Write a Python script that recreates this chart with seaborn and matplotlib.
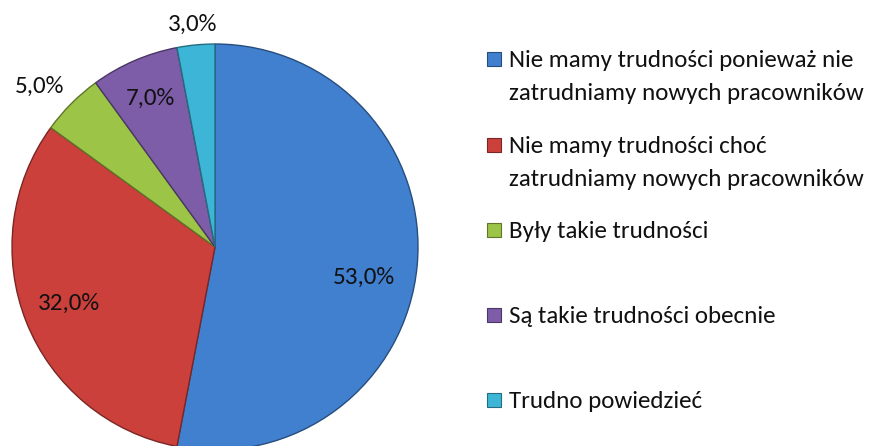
import seaborn as sns
import matplotlib.pyplot as plt
import matplotlib.colors as mcolors
from matplotlib.patches import Rectangle
import numpy as np

# data
categories = ['Nie mamy trudności ponieważ nie\nzatrudniamy nowych pracowników',
              'Nie mamy trudności choć\nzatrudniamy nowych pracowników',
              'Były takie trudności',
              'Są takie trudności obecnie',
              'Trudno powiedzieć']
values = [53.0, 32.0, 5.0, 7.0, 3.0]
colors = ['#4180CF', '#CC403C', '#9CC446', '#7D5CA8', '#3CB5D6']

# label placement (radius, angle shift in deg) per slice
label_pos = [(0.75, -6.0), (0.77, -0.5), (1.17, 2.5), (0.80, 0.2), (1.10, 0.3)]

sns.set_theme(style='white')
plt.rcParams['font.family'] = ['Carlito', 'Open Sans', 'DejaVu Sans']

W, H = 888, 446
fig = plt.figure(figsize=(W / 100, H / 100), dpi=100)

# pie axes: centre (215, 247) px, radius 203 px
cx, cy, r = 215, 247, 203
ax = fig.add_axes([(cx - r) / W, (H - cy - r) / H, 2 * r / W, 2 * r / H])

edge = [tuple(np.array(mcolors.to_rgb(c)) * 0.6) for c in colors]
wedges, _ = ax.pie(values, colors=colors, startangle=90, counterclock=False,
                   radius=1.0, wedgeprops=dict(linewidth=1.0))
for w, e in zip(wedges, edge):
    w.set_edgecolor(e)
    w.set_clip_on(False)

for w, v, (rr, shift) in zip(wedges, values, label_pos):
    ang = np.deg2rad((w.theta1 + w.theta2) / 2 + shift)
    ax.text(rr * np.cos(ang), rr * np.sin(ang), f'{v:.1f}%'.replace('.', ','),
            ha='center', va='center', fontsize=18, color='#111111')

ax.set_xlim(-1, 1)
ax.set_ylim(-1, 1)
ax.axis('off')

# legend, drawn by hand so the square sits on the first text line
leg_base = [67, 153, 238, 323, 408]
for lab, col, y in zip(categories, colors, leg_base):
    fig.add_artist(Rectangle((487 / W, (H - y + 1) / H), 14 / W, 14 / H,
                             transform=fig.transFigure, facecolor=col,
                             edgecolor=tuple(np.array(mcolors.to_rgb(col)) * 0.6),
                             linewidth=0.8))
    for i, line in enumerate(lab.split('\n')):
        fig.text(509 / W, (H - y - 33 * i) / H, line, ha='left', va='baseline',
                 fontsize=18, color='#111111')

plt.savefig('out.png', dpi=100)
